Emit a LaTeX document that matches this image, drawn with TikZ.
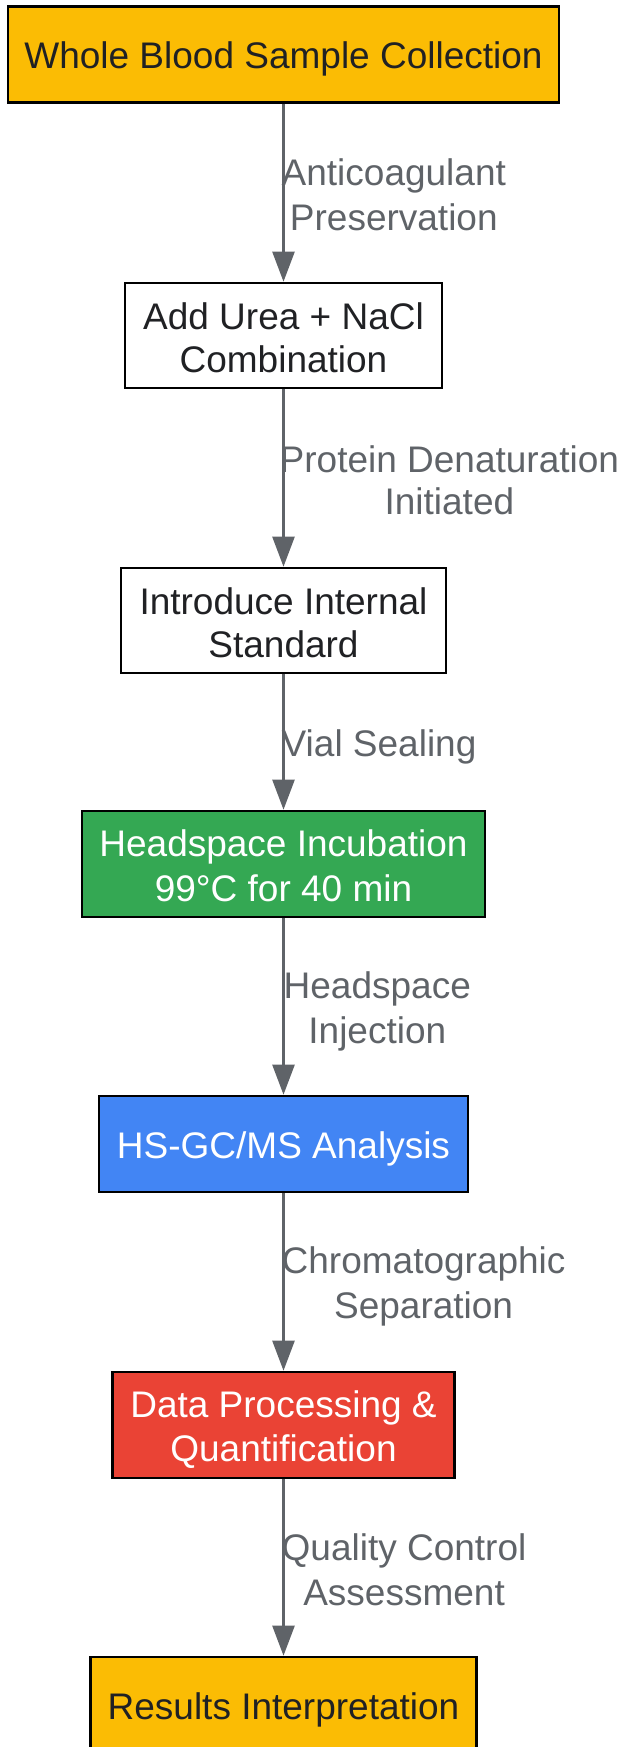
\documentclass[tikz,border=0pt]{standalone}
\usepackage{fontspec}
\setmainfont{Liberation Sans}
\usetikzlibrary{arrows.meta}
\definecolor{gyellow}{HTML}{FBBC04}
\definecolor{ggreen}{HTML}{34A853}
\definecolor{gblue}{HTML}{4285F4}
\definecolor{gred}{HTML}{EA4335}
\definecolor{edgegray}{HTML}{5F6368}
\definecolor{darktext}{HTML}{202124}
\newcommand\lnstrut{\rule[-5.5pt]{0pt}{41.5pt}}
\tikzset{
  stepbox/.style={draw=black, line width=2.6pt, align=center, inner sep=0pt,
    font=\fontsize{37}{42.5}\selectfont},
  lightbox/.style={stepbox, text=darktext},
  darkbox/.style={stepbox, text=white},
  flow/.style={draw=edgegray, line width=2.4pt, -{Triangle[length=30pt,width=22pt]}},
  elabel/.style={anchor=west, inner sep=0pt, align=center, text=edgegray,
    font=\fontsize{37}{41.5}\selectfont}
}
\begin{document}
\begin{tikzpicture}[x=1pt,y=-1pt]
\useasboundingbox (0,0) rectangle (626,1747);
\clip (0,0) rectangle (626,1747);
\node[lightbox, fill=gyellow, minimum width=551pt, minimum height=96pt] (n1) at (283.5,54.6) {\lnstrut Whole Blood Sample Collection};
\node[lightbox, fill=white, minimum width=317pt, minimum height=105pt] (n2) at (283.5,335.5) {\lnstrut Add Urea + NaCl\\\lnstrut Combination};
\node[lightbox, fill=white, minimum width=325pt, minimum height=105pt] (n3) at (283.5,620.5) {\lnstrut Introduce Internal\\\lnstrut Standard};
\node[darkbox, fill=ggreen, minimum width=403pt, minimum height=106pt] (n4) at (283.5,864) {\lnstrut Headspace Incubation\\\lnstrut 99°C for 40 min};
\node[darkbox, fill=gblue, minimum width=369pt, minimum height=96pt] (n5) at (283.5,1144) {\lnstrut HS-GC/MS Analysis};
\node[darkbox, fill=gred, minimum width=342pt, minimum height=106pt] (n6) at (283.5,1425) {\lnstrut Data Processing \&\\\lnstrut Quantification};
\node[lightbox, fill=gyellow, minimum width=386pt, minimum height=96pt] (n7) at (283.5,1705) {\lnstrut Results Interpretation};

\draw[flow] (n1.south) -- (n2.north) node[midway, elabel, xshift=-3pt] (l1) {\lnstrut Anticoagulant\\\lnstrut Preservation};
\draw[flow] (n2.south) -- (n3.north) node[midway, elabel, xshift=-5pt] (l2) {\lnstrut Protein Denaturation\\\lnstrut Initiated};
\draw[flow] (n3.south) -- (n4.north) node[midway, elabel, xshift=-3pt] (l3) {\lnstrut Vial Sealing};
\draw[flow] (n4.south) -- (n5.north) node[midway, elabel, xshift=-1pt] (l4) {\lnstrut Headspace\\\lnstrut Injection};
\draw[flow] (n5.south) -- (n6.north) node[midway, elabel, xshift=-3pt] (l5) {\lnstrut Chromatographic\\\lnstrut Separation};
\draw[flow] (n6.south) -- (n7.north) node[midway, elabel, xshift=-3pt] (l6) {\lnstrut Quality Control\\\lnstrut Assessment};
\end{tikzpicture}
\end{document}
